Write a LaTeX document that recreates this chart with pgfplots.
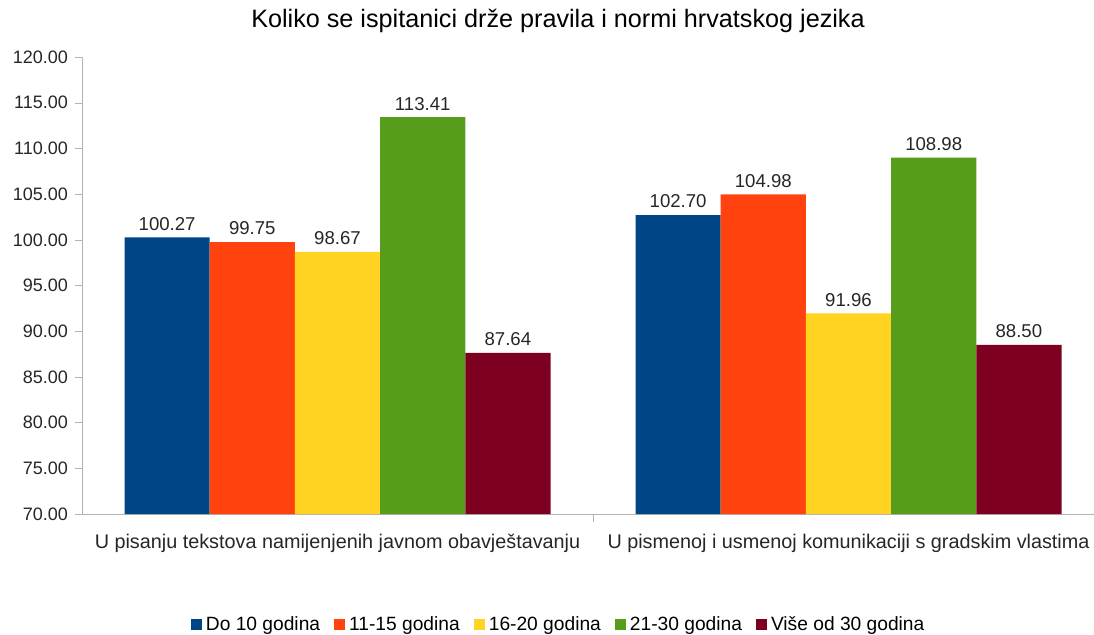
\documentclass[border=0pt]{standalone}
\usepackage{pgfplots}
\pgfplotsset{compat=1.18}
\usepackage{fontspec}
\setmainfont{Liberation Sans}
\definecolor{c1}{HTML}{004586}
\definecolor{c2}{HTML}{FF420E}
\definecolor{c3}{HTML}{FFD320}
\definecolor{c4}{HTML}{579D1C}
\definecolor{c5}{HTML}{7E0021}
\definecolor{axgray}{HTML}{B3B3B3}
\begin{document}
\begin{tikzpicture}
\useasboundingbox (0,0) rectangle (547pt,317pt);
\node[font=\fontsize{12.6}{14}\selectfont] at (279pt,306.5pt) {Koliko se ispitanici drže pravila i normi hrvatskog jezika};
\begin{axis}[
  at={(41pt,60pt)}, anchor=south west,
  scale only axis, width=506pt, height=228.5pt,
  xmin=-0.5, xmax=1.4804, ymin=70, ymax=120,
  ybar=0pt, bar width=42.6pt,
  axis x line=bottom, axis y line=left,
  axis line style={draw=axgray,-},
  ytick={70,75,...,120},
  yticklabel style={font=\fontsize{9}{10}\selectfont, /pgf/number format/.cd, fixed, fixed zerofill, precision=2, assume math mode=true},
  ticklabel style={text=black!85},
  xtick={0,1},
  xticklabels={U pisanju tekstova namijenjenih javnom obavještavanju, U pismenoj i usmenoj komunikaciji s gradskim vlastima},
  xticklabel style={font=\fontsize{9.9}{11}\selectfont, yshift=-3pt},
  major x tick style={draw=none},
  minor xtick={0.5},
  minor x tick style={draw=axgray},
  minor tick length=4pt,
  major tick length=3.5pt,
  tick align=outside,
  y tick style={draw=axgray},
  nodes near coords,
  nodes near coords style={font=\fontsize{9.3}{10}\selectfont, text=black!85, /pgf/number format/.cd, fixed, fixed zerofill, precision=2, assume math mode=true},
  legend columns=-1,
  legend style={draw=none, at={(0.472,-0.243)}, anchor=center, font=\fontsize{9.6}{10}\selectfont, /tikz/every even column/.append style={column sep=5pt}},
  legend image code/.code={\fill[#1] (0pt,-2.5pt) rectangle (5.5pt,3pt);},
  clip=true,
]
\addplot[fill=c1, draw=none] coordinates {(0,100.27) (1,102.70)};
\addplot[fill=c2, draw=none] coordinates {(0,99.75) (1,104.98)};
\addplot[fill=c3, draw=none] coordinates {(0,98.67) (1,91.96)};
\addplot[fill=c4, draw=none] coordinates {(0,113.41) (1,108.98)};
\addplot[fill=c5, draw=none] coordinates {(0,87.64) (1,88.50)};
\legend{Do 10 godina, 11-15 godina, 16-20 godina, 21-30 godina, Više od 30 godina}
\end{axis}
\end{tikzpicture}
\end{document}
